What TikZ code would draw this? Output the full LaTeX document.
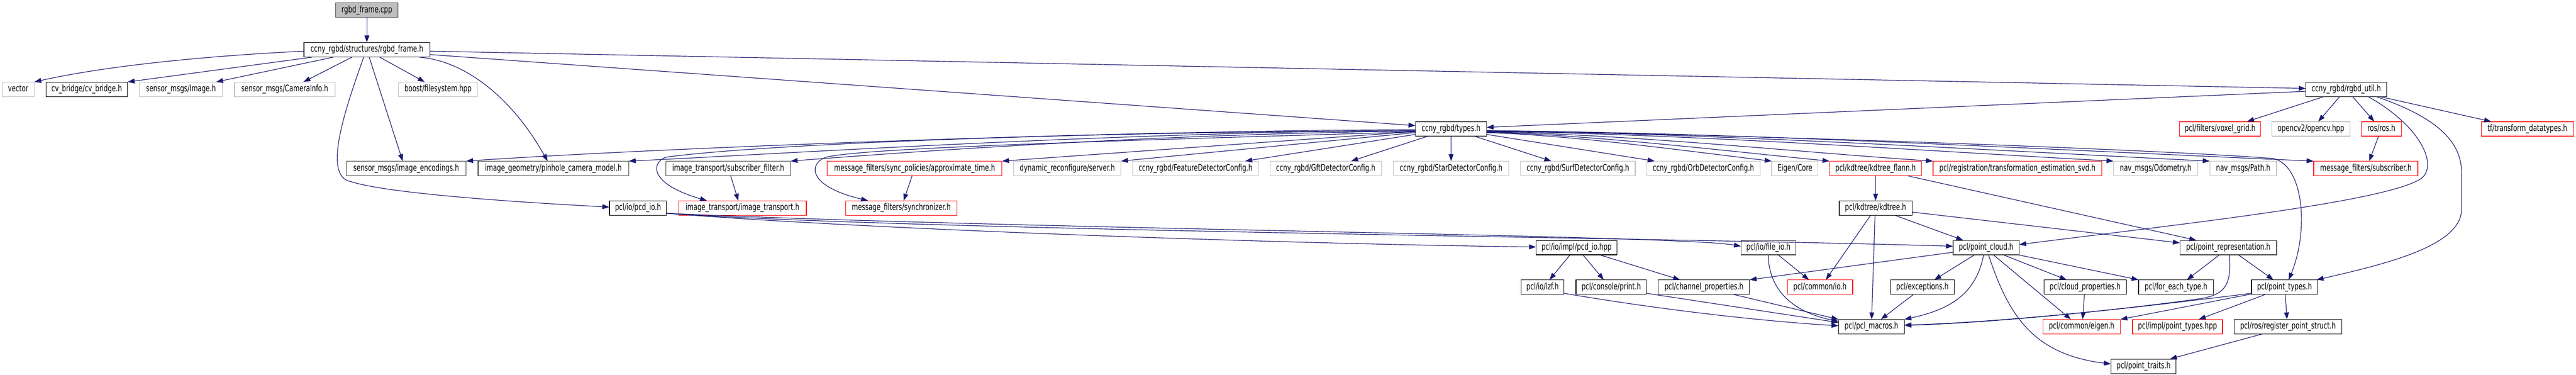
\documentclass[tikz,border=0pt]{standalone}
\usepackage{fontspec}
\setmainfont{DejaVu Sans}
\usetikzlibrary{arrows.meta}
\definecolor{edgecol}{HTML}{191970}
\definecolor{grey75}{HTML}{BFBFBF}
\definecolor{grey25}{HTML}{404040}
\definecolor{redb}{HTML}{FF0000}
\tikzset{
  nd/.style={rectangle, inner sep=0pt, minimum height=20pt, line width=0.6pt, fill=white,
    font=\fontsize{12.6}{15}\selectfont, text height=9.45pt, text depth=3.15pt},
  blk/.style={nd, draw=black},
  dk/.style={nd, draw=grey25},
  rd/.style={nd, draw=redb},
  gr/.style={nd, draw=grey75},
  dep/.style={draw=edgecol, line width=0.6pt, -{Triangle[length=6.8pt,width=4.8pt]}},
}
\begin{document}
\begin{tikzpicture}[x=1pt,y=1pt,xscale=0.5,yscale=0.70769,transform shape]
\useasboundingbox (0,0) rectangle (5065,-520);
% row 0
\node[dk, fill=grey75, minimum width=122.7pt] (cpp) at (721.35,-14.2) {rgbd\_frame.cpp};
% row 1
\node[blk, minimum width=247.3pt] (frameh) at (721.35,-69.1) {ccny\_rgbd/structures/rgbd\_frame.h};
% row 2
\node[gr, minimum width=63pt] (vector) at (35.8,-124) {vector};
\node[blk, minimum width=160.4pt] (cvbridge) at (170.5,-124) {cv\_bridge/cv\_bridge.h};
\node[gr, minimum width=163pt] (image) at (355.8,-124) {sensor\_msgs/Image.h};
\node[gr, minimum width=197.7pt] (caminfo) at (559.85,-124) {sensor\_msgs/CameraInfo.h};
\node[gr, minimum width=155pt] (boostfs) at (861.2,-124) {boost/filesystem.hpp};
\node[blk, minimum width=159pt] (util) at (4613.2,-124) {ccny\_rgbd/rgbd\_util.h};
% row 3
\node[dk, minimum width=139.4pt] (types) at (2853,-178.9) {ccny\_rgbd/types.h};
\node[rd, minimum width=159pt] (voxel) at (4365.2,-178.9) {pcl/filters/voxel\_grid.h};
\node[gr, minimum width=153.7pt] (opencv) at (4543.85,-178.9) {opencv2/opencv.hpp};
\node[rd, minimum width=79.3pt] (ros) at (4682.35,-178.9) {ros/ros.h};
\node[rd, minimum width=181.3pt] (tf) at (4969.35,-178.9) {tf/transform\_datatypes.h};
% row 4
\node[dk, minimum width=235.3pt] (imgenc) at (798.65,-233.8) {sensor\_msgs/image\_encodings.h};
\node[dk, minimum width=296pt] (pinhole) at (1088,-233.8) {image\_geometry/pinhole\_camera\_model.h};
\node[dk, minimum width=245pt] (subfilter) at (1431.8,-233.8) {image\_transport/subscriber\_filter.h};
\node[rd, minimum width=343.3pt] (approx) at (1798.35,-233.8) {message\_filters/sync\_policies/approximate\_time.h};
\node[gr, minimum width=210.7pt] (dynrec) at (2098.65,-233.8) {dynamic\_reconfigure/server.h};
\node[gr, minimum width=246.7pt] (featcfg) at (2350.65,-233.8) {ccny\_rgbd/FeatureDetectorConfig.h};
\node[gr, minimum width=218.7pt] (gftcfg) at (2606.65,-233.8) {ccny\_rgbd/GftDetectorConfig.h};
\node[gr, minimum width=227pt] (starcfg) at (2853.2,-233.8) {ccny\_rgbd/StarDetectorConfig.h};
\node[gr, minimum width=225.6pt] (surfcfg) at (3102.5,-233.8) {ccny\_rgbd/SurfDetectorConfig.h};
\node[gr, minimum width=223pt] (orbcfg) at (3349.2,-233.8) {ccny\_rgbd/OrbDetectorConfig.h};
\node[gr, minimum width=91pt] (eigencore) at (3529.2,-233.8) {Eigen/Core};
\node[rd, minimum width=181pt] (kdflann) at (3687.8,-233.8) {pcl/kdtree/kdtree\_flann.h};
\node[rd, minimum width=332pt] (svd) at (3966.7,-233.8) {pcl/registration/transformation\_estimation\_svd.h};
\node[gr, minimum width=165.3pt] (odom) at (4238.35,-233.8) {nav\_msgs/Odometry.h};
\node[gr, minimum width=131.3pt] (path) at (4410.65,-233.8) {nav\_msgs/Path.h};
\node[rd, minimum width=204.7pt] (msgsub) at (4651.65,-233.8) {message\_filters/subscriber.h};
% row 5
\node[blk, minimum width=112.4pt] (pcdio) at (1254.5,-288.7) {pcl/io/pcd\_io.h};
\node[rd, minimum width=251pt] (imgtrans) at (1459.8,-288.7) {image\_transport/image\_transport.h};
\node[rd, minimum width=218.6pt] (sync) at (1772,-288.7) {message\_filters/synchronizer.h};
\node[blk, minimum width=143pt] (kdtree) at (3687.8,-288.7) {pcl/kdtree/kdtree.h};
% row 6
\node[blk, minimum width=159pt] (pcdhpp) at (3099.8,-343.6) {pcl/io/impl/pcd\_io.hpp};
\node[dk, minimum width=107.4pt] (fileio) at (3477,-343.6) {pcl/io/file\_io.h};
\node[dk, minimum width=129.7pt] (cloud) at (3905.15,-343.6) {pcl/point\_cloud.h};
\node[dk, minimum width=190pt] (pointrep) at (4381.3,-343.6) {pcl/point\_representation.h};
% row 7
\node[blk, minimum width=84.6pt] (lzf) at (3033,-398.5) {pcl/io/lzf.h};
\node[blk, minimum width=138.6pt] (print) at (3168,-398.5) {pcl/console/print.h};
\node[blk, minimum width=179.3pt] (chanprop) at (3350.35,-398.5) {pcl/channel\_properties.h};
\node[rd, minimum width=128.4pt] (commonio) at (3578.5,-398.5) {pcl/common/io.h};
\node[blk, minimum width=125.7pt] (except) at (3779.85,-398.5) {pcl/exceptions.h};
\node[blk, minimum width=162.3pt] (cloudprop) at (4099.85,-398.5) {pcl/cloud\_properties.h};
\node[blk, minimum width=147pt] (foreach) at (4278.5,-398.5) {pcl/for\_each\_type.h};
\node[blk, minimum width=130.3pt] (ptypes) at (4491.85,-398.5) {pcl/point\_types.h};
% row 8
\node[blk, minimum width=129.3pt] (macros) at (3679.65,-453.4) {pcl/pcl\_macros.h};
\node[rd, minimum width=152pt] (eigen) at (4093,-453.4) {pcl/common/eigen.h};
\node[rd, minimum width=177.3pt] (ptypeshpp) at (4281.35,-453.4) {pcl/impl/point\_types.hpp};
\node[blk, minimum width=212pt] (regstruct) at (4498.7,-453.4) {pcl/ros/register\_point\_struct.h};
% row 9
\node[blk, minimum width=128pt] (traits) at (4214.7,-508.3) {pcl/point\_traits.h};

% ---- edges ----
\draw[dep] (cpp.south) -- (frameh.north);
\draw[dep] (frameh.west |- 0,-71) .. controls (450,-76) and (230,-88) .. (vector.north east);
\draw[dep] (frameh.south -| 613.3,0) -- (cvbridge.north east);
\draw[dep] (frameh.south -| 655,0) -- (image.north -| 425,0);
\draw[dep] (frameh.south -| 691.7,0) -- (caminfo.north -| 596.7,0);
\draw[dep] (frameh.south -| 746.7,0) -- (boostfs.north -| 835,0);
\draw[dep] (frameh.south -| 726,0) -- (imgenc.north -| 791.7,0);
\draw[dep] (frameh.south -| 825,0) .. controls (920,-85) and (1010,-140) .. (pinhole.north -| 1076.7,0);
\draw[dep] (frameh.south -| 715,0) .. controls (685,-140) and (630,-245) .. (690,-252)
   .. controls (760,-268) and (1000,-280) .. (pcdio.west |- 0,-287.3);
\draw[dep] (frameh.east |- 0,-75.7) -- (types.west |- 0,-174.3);
\draw[dep] (frameh.east |- 0,-71) -- (util.west |- 0,-122.7);
% rgbd_util
\draw[dep] (util.west |- 0,-126.7) -- (types.east |- 0,-176.7);
\draw[dep] (util.south -| 4568.3,0) -- (voxel.north -| 4418.3,0);
\draw[dep] (util.south -| 4600,0) -- (opencv.north -| 4558.3,0);
\draw[dep] (util.south -| 4626,0) -- (ros.north -| 4668.3,0);
\draw[dep] (util.south -| 4681,0) -- (tf.north -| 4898,0);
\draw[dep] (util.south -| 4656.7,0) .. controls (4760,-175) and (4795,-230) .. (4760,-248)
   .. controls (4690,-280) and (4300,-310) .. (cloud.east |- 0,-339.3);
\draw[dep] (util.south -| 4673,0) .. controls (4800,-165) and (4840,-200) .. (4840,-240)
   -- (4840,-290) .. controls (4840,-340) and (4700,-365) .. (ptypes.north -| 4555,0);
\draw[dep] (ros.south -| 4676.7,0) -- (msgsub.north -| 4658.3,0);
% types.h to the left
\draw[dep] (types.west |- 0,-180) .. controls (2200,-181) and (1300,-205) .. (imgenc.north east);
\draw[dep] (types.west |- 0,-181) .. controls (2200,-183) and (1500,-215) .. (pinhole.north east);
\draw[dep] (types.west |- 0,-182) .. controls (2300,-185) and (1800,-210) .. (subfilter.north east);
\draw[dep] (types.west |- 0,-181.5) .. controls (2100,-183) and (1500,-200) .. (1310,-218)
   .. controls (1280,-225) and (1275,-255) .. (imgtrans.north -| 1390,0);
\draw[dep] (types.west |- 0,-182.5) -- (approx.north east);
\draw[dep] (types.west |- 0,-183) .. controls (2200,-195) and (1700,-205) .. (1625,-218)
   .. controls (1590,-226) and (1585,-258) .. (sync.north -| 1706.7,0);
\draw[dep] (types.west |- 0,-184) -- (dynrec.north east);
\draw[dep] (types.west |- 0,-186.5) -- (featcfg.north -| 2448.3,0);
\draw[dep] (types.south -| 2806.7,0) -- (gftcfg.north -| 2656.7,0);
\draw[dep] (types.south) -- (starcfg.north);
\draw[dep] (types.south -| 2900,0) -- (surfcfg.north -| 3050,0);
% types.h to the right
\draw[dep] (types.east |- 0,-186.5) -- (orbcfg.north -| 3253.3,0);
\draw[dep] (types.east |- 0,-184) .. controls (3100,-188) and (3320,-210) .. (eigencore.north west);
\draw[dep] (types.east |- 0,-183.5) .. controls (3130,-187) and (3400,-210) .. (kdflann.north west);
\draw[dep] (types.east |- 0,-183) .. controls (3200,-186) and (3550,-212) .. (svd.north west);
\draw[dep] (types.east |- 0,-182.5) .. controls (3300,-185) and (3800,-210) .. (odom.north west);
\draw[dep] (types.east |- 0,-182) .. controls (3350,-184) and (3950,-210) .. (path.north west);
\draw[dep] (types.east |- 0,-181.5) .. controls (3400,-183) and (4100,-210) .. (msgsub.north west);
\draw[dep] (types.east |- 0,-181) .. controls (3600,-190) and (4300,-210) .. (4470,-220)
   .. controls (4530,-230) and (4540,-320) .. (ptypes.north -| 4500,0);
% kdtree
\draw[dep] (kdflann.south) -- (kdtree.north);
\draw[dep] (kdflann.south -| 3751.7,0) -- (pointrep.north -| 4318.3,0);
\draw[dep] (kdtree.east |- 0,-294.3) -- (pointrep.west |- 0,-337);
\draw[dep] (kdtree.south -| 3726.7,0) -- (cloud.north -| 3860,0);
\draw[dep] (kdtree.south -| 3677.7,0) -- (commonio.north -| 3590,0);
\draw[dep] (kdtree.south -| 3686.7,0) -- (macros.north -| 3680,0);
% pcd_io.h
\draw[dep] (pcdio.east |- 0,-296) .. controls (1700,-318) and (2500,-338) .. (pcdhpp.west |- 0,-342.7);
\draw[dep] (pcdio.east |- 0,-296) .. controls (2000,-318) and (3300,-326) .. (fileio.west |- 0,-341.7);
\draw[dep] (pcdio.east |- 0,-296) .. controls (1800,-320) and (3300,-330) .. (cloud.west |- 0,-341.7);
% pcd_io.hpp, file_io
\draw[dep] (pcdhpp.south -| 3086.7,0) -- (lzf.north -| 3046.7,0);
\draw[dep] (pcdhpp.south -| 3112.7,0) -- (print.north -| 3153.3,0);
\draw[dep] (pcdhpp.south -| 3146.7,0) -- (chanprop.north -| 3303.3,0);
\draw[dep] (fileio.south -| 3496.7,0) -- (commonio.north -| 3556.7,0);
\draw[dep] (fileio.south -| 3476.7,0) .. controls (3478,-400) and (3520,-432) .. (macros.west |- 0,-446);
% point_cloud
\draw[dep] (cloud.west |- 0,-350) -- (chanprop.north east);
\draw[dep] (cloud.south -| 3881.7,0) -- (except.north -| 3803.3,0);
\draw[dep] (cloud.south -| 3900,0) .. controls (3885,-410) and (3830,-430) .. (macros.north east);
\draw[dep] (cloud.south -| 3910,0) .. controls (3950,-440) and (4000,-492) .. (traits.west |- 0,-505);
\draw[dep] (cloud.south -| 3920,0) -- (eigen.north -| 4071.7,0);
\draw[dep] (cloud.south -| 3940,0) -- (cloudprop.north -| 4063.3,0);
\draw[dep] (cloud.south east) -- (foreach.north west);
\draw[dep] (cloudprop.south -| 4098.3,0) -- (eigen.north -| 4095,0);
% point_representation, point_types
\draw[dep] (pointrep.south -| 4363.3,0) -- (foreach.north -| 4300,0);
\draw[dep] (pointrep.south -| 4401.7,0) -- (ptypes.north -| 4470,0);
\draw[dep] (pointrep.south -| 4383.3,0) .. controls (4388,-395) and (4375,-408) .. (4330,-414)
   .. controls (4150,-432) and (3900,-448) .. (macros.east |- 0,-451);
\draw[dep] (ptypes.west |- 0,-407) .. controls (4200,-427) and (3950,-447) .. (macros.east |- 0,-451.5);
\draw[dep] (ptypes.west |- 0,-408) -- (eigen.north east);
\draw[dep] (ptypes.south -| 4453.3,0) -- (ptypeshpp.north -| 4323.3,0);
\draw[dep] (ptypes.south -| 4493.3,0) -- (regstruct.north -| 4496.7,0);
\draw[dep] (regstruct.south -| 4446.7,0) -- (traits.north -| 4266.7,0);
% into pcl_macros from the left
\draw[dep] (lzf.east |- 0,-407) .. controls (3250,-428) and (3450,-445) .. (macros.west |- 0,-452);
\draw[dep] (print.east |- 0,-407) -- (macros.west |- 0,-447.5);
\draw[dep] (chanprop.south -| 3410,0) -- (macros.north west);
\draw[dep] (except.south -| 3761.7,0) -- (macros.north -| 3698.3,0);
% image_transport / message_filters
\draw[dep] (subfilter.south -| 1436.7,0) -- (imgtrans.north -| 1451.7,0);
\draw[dep] (approx.south -| 1793.3,0) -- (sync.north -| 1776.7,0);
\end{tikzpicture}
\end{document}
